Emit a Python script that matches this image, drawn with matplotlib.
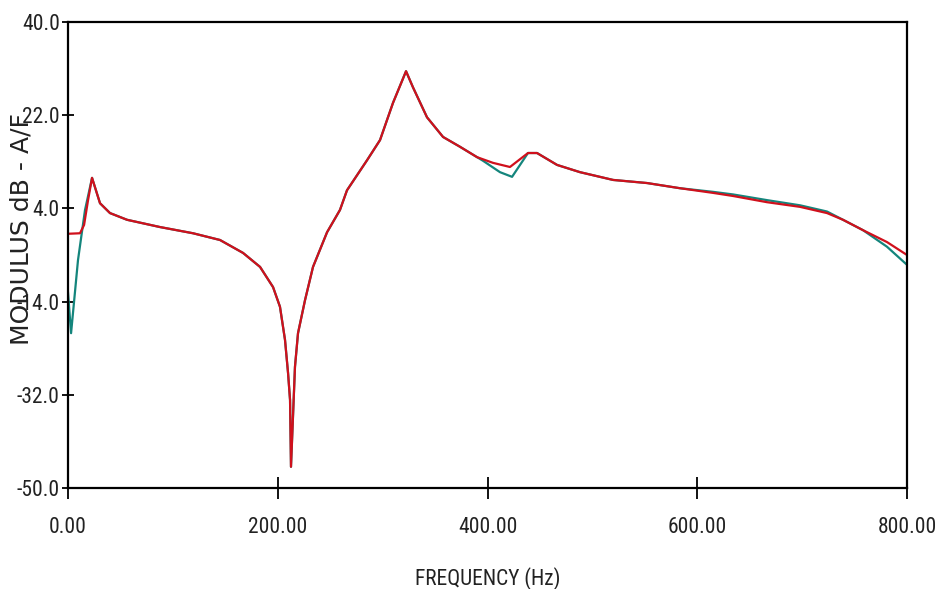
import matplotlib
matplotlib.use("Agg")
import matplotlib.pyplot as plt
from matplotlib import font_manager
from matplotlib.ticker import FormatStrFormatter

plt.rcParams["axes.unicode_minus"] = False

# FRF modulus, red trace (Hz, dB)
freq_red = [0, 11.4, 15.3, 19.1, 22.9, 30.5, 40.0, 56.3, 87.7, 119.2, 144.9,
            166.9, 183.1, 195.5, 202.1, 206.9, 209.8, 211.7, 212.6, 216.4,
            219.3, 226.0, 233.6, 247.0, 259.3, 266.0, 285.1, 297.5, 309.9,
            322.3, 328.9, 342.3, 357.6, 373.8, 390.0, 405.2, 421.4, 438.6,
            447.2, 466.3, 488.2, 519.7, 552.1, 583.5, 615.0, 634.1, 666.5,
            698.0, 723.7, 739.0, 758.0, 780.9, 800.0]
db_red = [-0.9, -0.8, 0.8, 5.6, 9.9, 5.0, 3.1, 1.8, 0.4, -0.8, -2.1,
          -4.6, -7.3, -11.2, -15.0, -21.4, -27.8, -33.0, -45.9, -26.6,
          -20.1, -13.7, -7.3, -0.6, 3.7, 7.5, 13.3, 17.2, 24.4,
          30.5, 27.4, 21.6, 17.8, 15.9, 13.9, 12.8, 12.0, 14.7,
          14.7, 12.4, 11.0, 9.5, 8.9, 7.9, 7.0, 6.4, 5.2,
          4.3, 3.1, 1.8, -0.2, -2.5, -5.0]

# FRF modulus, teal trace (Hz, dB)
freq_teal = [0, 2.9, 9.5, 16.2, 22.9, 30.5, 40.0, 56.3, 87.7, 119.2, 144.9,
             166.9, 183.1, 195.5, 202.1, 206.9, 209.8, 211.7, 212.6, 216.4,
             219.3, 226.0, 233.6, 247.0, 259.3, 266.0, 285.1, 297.5, 309.9,
             322.3, 328.9, 342.3, 357.6, 373.8, 395.7, 411.9, 423.4, 438.6,
             447.2, 466.3, 488.2, 519.7, 552.1, 583.5, 615.0, 634.1, 666.5,
             698.0, 723.7, 739.0, 758.0, 780.9, 800.0]
db_teal = [-12.3, -20.1, -6.0, 3.7, 9.9, 5.0, 3.1, 1.8, 0.4, -0.8, -2.1,
           -4.6, -7.3, -11.2, -15.0, -21.4, -27.8, -33.0, -45.9, -26.6,
           -20.1, -13.7, -7.3, -0.6, 3.7, 7.5, 13.3, 17.2, 24.4,
           30.5, 27.4, 21.6, 17.8, 15.9, 13.2, 11.0, 10.1, 14.7,
           14.7, 12.4, 11.0, 9.5, 8.9, 7.9, 7.2, 6.7, 5.6,
           4.6, 3.4, 1.8, -0.2, -3.4, -6.9]

x_ticks = [0, 200, 400, 600, 800]
y_ticks = [40, 22, 4, -14, -32, -50]

# pick a condensed face for the tick labels if one is around
installed = {f.name for f in font_manager.fontManager.ttflist}
narrow_name = next((n for n in ["Liberation Sans Narrow", "DejaVu Sans Condensed",
                                "Roboto Condensed", "Open Sans Condensed"]
                    if n in installed), None)
if narrow_name:
    narrow, tick_size = [narrow_name, "DejaVu Sans"], 15.5
else:
    narrow, tick_size = ["Liberation Sans", "DejaVu Sans"], 13.5

fig = plt.figure(figsize=(9.37, 5.89), dpi=100)
ax = fig.add_axes([0.0726, 0.1715, 0.8954, 0.7911])

ax.plot(freq_teal, db_teal, color="#14857c", lw=1.6)
ax.plot(freq_red, db_red, color="#d0101c", lw=1.6)

ax.set_xlim(0, 800)
ax.set_ylim(-50, 40)
ax.set_xticks(x_ticks)
ax.set_yticks(y_ticks)
ax.xaxis.set_major_formatter(FormatStrFormatter("%.2f"))
ax.yaxis.set_major_formatter(FormatStrFormatter("%.1f"))

for s in ax.spines.values():
    s.set_linewidth(1.6)
    s.set_color("black")

ax.tick_params(axis="y", direction="inout", length=8, width=1.3, pad=2)
ax.tick_params(axis="x", direction="inout", length=16, width=1.3, pad=13)
for lab in ax.get_xticklabels() + ax.get_yticklabels():
    lab.set_fontfamily(narrow)
    lab.set_fontsize(tick_size)
    lab.set_color("#222222")

ax.set_xlabel("FREQUENCY (Hz)", family=narrow, fontsize=tick_size,
              color="#222222", labelpad=21)
ax.set_ylabel("MODULUS dB - A/F", family="DejaVu Sans", fontsize=18,
              color="#222222", va="center")
ax.yaxis.set_label_coords(-0.055, 0.555)

fig.savefig("out.png", dpi=100, facecolor="white")
